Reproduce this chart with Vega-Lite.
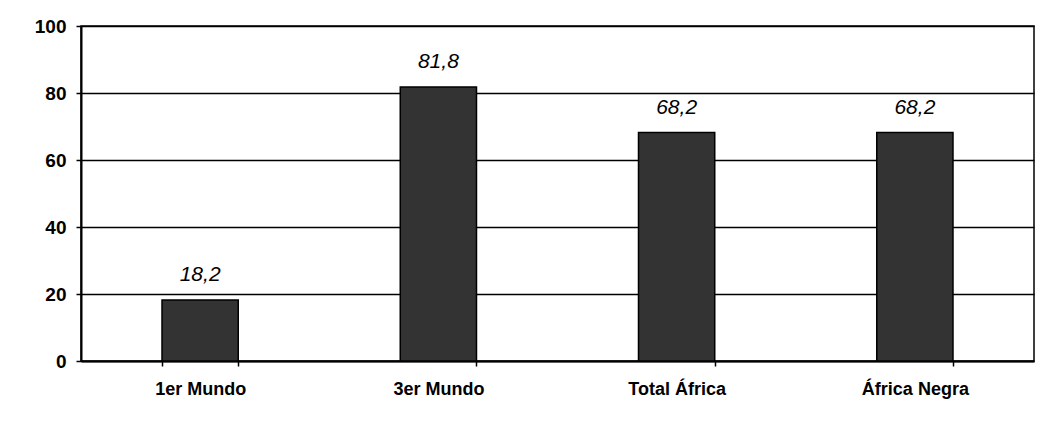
{
  "$schema": "https://vega.github.io/schema/vega-lite/v6.json",
  "width": 953,
  "height": 335,
  "autosize": {"type": "none"},
  "padding": {"left": 81, "top": 26, "right": 8, "bottom": 77},
  "background": "white",
  "config": {
    "view": {"stroke": "black", "strokeWidth": 1.5},
    "font": "Liberation Sans"
  },
  "data": {
    "values": [
      {"region": "1er Mundo", "value": 18.2, "label": "18,2"},
      {"region": "3er Mundo", "value": 81.8, "label": "81,8"},
      {"region": "Total África", "value": 68.2, "label": "68,2"},
      {"region": "África Negra", "value": 68.2, "label": "68,2"}
    ]
  },
  "encoding": {
    "x": {
      "field": "region",
      "type": "nominal",
      "sort": null,
      "scale": {"paddingInner": 0.68, "paddingOuter": 0.34},
      "axis": {
        "title": null,
        "labelAngle": 0,
        "labelFontSize": 18,
        "labelFontWeight": "bold",
        "labelColor": "black",
        "labelPadding": 14,
        "domainColor": "black",
        "domainWidth": 2,
        "tickColor": "black",
        "tickBand": "extent",
        "tickSize": 5,
        "tickWidth": 1.5
      }
    },
    "y": {
      "field": "value",
      "type": "quantitative",
      "scale": {"domain": [0, 100], "nice": false},
      "axis": {
        "title": null,
        "values": [0, 20, 40, 60, 80, 100],
        "labelFontSize": 19,
        "labelFontWeight": "bold",
        "labelColor": "black",
        "labelPadding": 10,
        "domainColor": "black",
        "domainWidth": 2,
        "tickColor": "black",
        "tickSize": 5,
        "tickWidth": 1.5,
        "gridColor": "black",
        "gridWidth": 1.5,
        "gridOpacity": 1
      }
    }
  },
  "layer": [
    {
      "mark": {"type": "bar", "color": "#333333", "stroke": "black", "strokeWidth": 1.5}
    },
    {
      "mark": {"type": "text", "dy": -25, "fontSize": 21, "fontStyle": "italic", "color": "black"},
      "encoding": {"text": {"field": "label"}}
    }
  ]
}
